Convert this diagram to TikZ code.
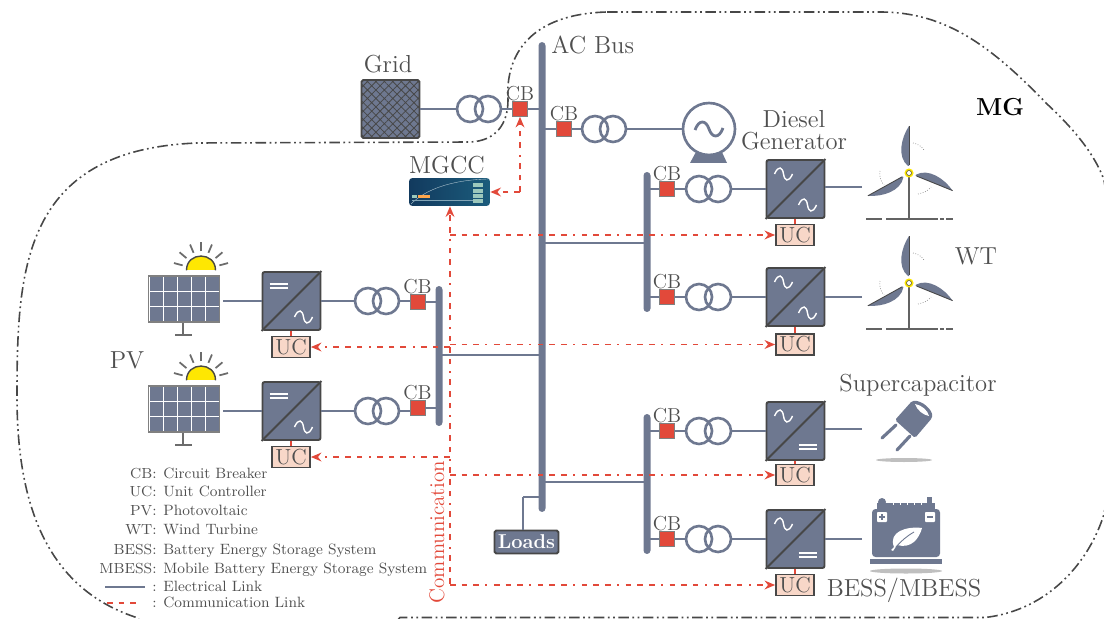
\documentclass[tikz,border=0pt]{standalone}
\usetikzlibrary{arrows.meta,patterns.meta,positioning}

\definecolor{busc}{HTML}{6E7890}
\definecolor{darkc}{HTML}{474747}
\definecolor{textc}{HTML}{4F4F4F}
\definecolor{redc}{HTML}{E2493A}
\definecolor{ucfill}{HTML}{F8D7C8}
\definecolor{ctrlleft}{HTML}{123A5E}
\definecolor{ctrlright}{HTML}{1B5C7C}
\definecolor{ctrlbar}{HTML}{9CC8BC}

\tikzset{
    txtbig/.style={font=\fontsize{14}{12.5}\selectfont, inner sep=0pt, align=center},
    txtcb/.style={font=\fontsize{11.5}{12}\selectfont, inner sep=0pt},
    txtleg/.style={font=\fontsize{8.5}{10}\selectfont, inner sep=0pt},
    txtterm/.style={font=\fontsize{8.3}{10}\selectfont, inner sep=0pt},
    busbar/.style={fill=busc, rounded corners=2pt, minimum width=.14cm, inner sep=0pt},
    elec/.style={draw=busc, line width=1.1pt},
    comm/.style={draw=redc, line width=.95pt, dash pattern=on 3.2pt off 3.4pt on 3.2pt off 3.4pt on 3.2pt off 3.8pt on 1pt off 3.8pt},
    commarrow/.style={comm, -{Stealth[length=6pt,width=5pt,fill=redc]}},
    mgline/.style={draw=darkc, line width=.9pt, dash pattern=on 6pt off 2pt on 1pt off 2pt on 1pt off 2pt},
    cbreaker/.style={draw=gray, fill=redc, minimum size=.3cm, inner sep=0pt, line width=.4pt},
    coil/.style={draw=busc, circle, minimum size=.52cm, inner sep=0pt, line width=1.5pt},
    conv/.style={draw=darkc, fill=busc, rounded corners=1.2pt, minimum size=1.16cm, inner sep=0pt, line width=1.1pt},
    uc/.style={draw=darkc, fill=ucfill, minimum width=.76cm, minimum height=.42cm, inner sep=0pt, line width=1pt, font=\fontsize{12.4}{13}\selectfont},
    acsign/.pic={\draw[white, line width=.8pt] (-9,0) .. controls (-5,-9) and (-1,-7) .. (0,0) .. controls (1,7) and (5,9) .. (9,0);},
    dcsign/.pic={\draw[white, line width=.8pt] (-9,-2) -- (9,-2) (-9,2) -- (9,2);},
    solar/.pic={
        \fill[yellow!90!orange] (-14.5,-5) .. controls (-14.5,-24) and (14.5,-24) .. (14.5,-5) -- cycle;
        \draw[darkc, line width=.8pt] (-14.5,-5) .. controls (-14.5,-24) and (14.5,-24) .. (14.5,-5);
        \foreach \a in {15,40,67,90,113,140,165}
            \draw[darkc!80, line width=1pt] (0,-5) ++(-\a:19) -- ++(-\a:9);
    },
    turbine/.pic={
        \foreach \a in {0,-112,119}{
            \begin{scope}[rotate=\a]
                \fill[busc] (0,-47) .. controls (-8,-35) and (-12,-16) .. (-1,-7) -- (0,-7) -- cycle;
                \draw[darkc, line width=.5pt] (0,-47) -- (0,-8);
            \end{scope}
        }
        \draw[darkc!85, line width=.8pt] (0,0) -- (0,46);
        \draw[darkc!85, line width=.8pt] (-43,46) -- (-27,46) (-23,46) -- (29,46) (31,46) -- (35,46) (37,46) -- (44,46);
        \draw[gray, line width=.4pt, densely dotted] (4,-30) .. controls (9,-29) and (12,-27) .. (15,-23);
        \draw[gray, line width=.4pt, densely dotted] (-29,-2) .. controls (-30,3) and (-28,9) .. (-25,12);
        \draw[gray, line width=.4pt, densely dotted] (9,21) .. controls (14,20) and (19,18) .. (22,14);
        \draw[yellow!90!orange, fill=white, line width=1.1pt] (0,0) circle (.07cm);
        \draw[darkc, line width=.3pt] (0,0) circle (.05cm);
    },
}

\begin{document}
\begin{tikzpicture}[x=.02cm, y=-.02cm, every node/.append style={text=textc}]
    \useasboundingbox (0,0) rectangle (1104,618);

    % microgrid boundary
    \begin{scope}
        \clip (0,0) rectangle (1104,618);
        \draw[mgline] (607,12) -- (880,12) .. controls (945,12) and (990,45) .. (1047,104)
            .. controls (1075,130) and (1095,155) .. (1104,180) -- (1130,350) -- (1104,514)
            .. controls (1090,560) and (1050,610) .. (985,617.5) -- (400,617.5) -- (380,640) -- (150,640) -- (138,618)
            .. controls (50,590) and (17,510) .. (17,397) .. controls (17,270) and (22,150) .. (197,143)
            -- (470,142) .. controls (495,141) and (508,125) .. (508,100)
            .. controls (505,55) and (530,14) .. cycle;
    \end{scope}

    % buses
    \node[busbar, minimum height=9.4cm] (acbus) at (542,277) {};
    \node[busbar, minimum height=2.8cm] (busp) at (439,356) {};
    \node[busbar, minimum height=2.8cm] (busw) at (647,242) {};
    \node[busbar, minimum height=2.8cm] (buss) at (647,484) {};
    \node[txtbig, anchor=west] (aclabel) at (551,45) {AC Bus};

    % grid side
    \node[draw=darkc, line width=1.1pt, rounded corners=1pt, preaction={fill=busc}, pattern={Hatch[angle=45,distance=3.4pt,line width=.45pt]}, pattern color=darkc, minimum size=1.16cm, inner sep=0pt] (grid) at (390.5,109) {};
    \node[txtbig] (gridlabel) at (388,64) {Grid};
    \node[coil] (tga) at (470,109) {};
    \node[coil] (tgb) at (488,109) {};
    \node[cbreaker] (cbg) at (520,109) {};
    \node[txtcb, above=-.3pt of cbg] (cbgl) {CB};
    \draw[elec] (grid) -- (tga);
    \draw[elec] (tgb) -- (cbg);
    \draw[elec] (cbg) -- (cbg -| acbus);

    % diesel generator
    \node[cbreaker] (cbd) at (564,129) {};
    \node[txtcb, above=-.3pt of cbd] (cbdl) {CB};
    \node[coil] (tda) at (595,129) {};
    \node[coil] (tdb) at (613,129) {};
    \fill[busc] (697,150) -- (721,150) -- (727,163) -- (690,163) -- cycle;
    \node[draw=busc, fill=white, circle, line width=1.5pt, minimum size=1.04cm, inner sep=0pt] (gen) at (709,129) {};
    \draw[busc, line width=1.6pt] (695,130) .. controls (699,119) and (706,120) .. (709,129) .. controls (712,138) and (719,139) .. (723,128);
    \node[txtbig] (genlabel) at (794,130) {Diesel\\Generator};
    \draw[elec] (cbd) -- (cbd -| acbus);
    \draw[elec] (cbd) -- (tda);
    \draw[elec] (tdb) -- (gen);

    % converter rows on the right
    \foreach \r/\y/\ucy in {a/189/235,b/297/344.5,c/431/475,d/539/585}{
        \node[cbreaker] (cb\r) at (667,\y) {};
        \node[txtcb, above=-.3pt of cb\r] (cbl\r) {CB};
        \node[coil] (t\r a) at (699,\y) {};
        \node[coil] (t\r b) at (718,\y) {};
        \node[conv] (conv\r) at (795.5,\y) {};
        \node[uc] (uc\r) at (795,\ucy) {UC};
        \draw[darkc, line width=1.1pt] (conv\r.south west) -- (conv\r.north east);
        \draw[redc, line width=1pt] (uc\r.north) -- (uc\r.north |- conv\r.south);
        \draw[elec] (cb\r) -- (t\r a);
        \draw[elec] (t\r b) -- (conv\r);
    }
    \foreach \r in {a,b}{
        \draw[elec] (cb\r) -- (cb\r -| busw);
        \path (conv\r) ++(-12,-15) pic {acsign};
        \path (conv\r) ++(12,16) pic {acsign};
    }
    \foreach \r in {c,d}{
        \draw[elec] (cb\r) -- (cb\r -| buss);
        \path (conv\r) ++(-12,-15) pic {acsign};
        \path (conv\r) ++(12,16) pic {dcsign};
    }
    \foreach \r/\y in {a/187,b/297,c/429,d/539}{
        \coordinate (out\r) at (862,\y);
        \draw[elec] (out\r) -- (out\r -| conv\r.east);
    }

    % PV rows on the left
    \foreach \r/\y/\cby/\ucy in {p/301/302/347,q/411/408/457}{
        \node[cbreaker] (cb\r) at (417.5,\cby) {};
        \node[txtcb, above=-.3pt of cb\r] (cbl\r) {CB};
        \node[coil] (t\r a) at (368,\y) {};
        \node[coil] (t\r b) at (386,\y) {};
        \node[conv] (conv\r) at (291.5,\y) {};
        \node[uc] (uc\r) at (291,\ucy) {UC};
        \node[draw=gray, line width=.8pt, minimum width=1.41cm, minimum height=.92cm, inner sep=0pt] (panel\r) at (184,\y-2) {};
        \foreach \cx in {0,...,4}
            \foreach \cy in {0,...,2}
                \fill[busc] (149.5+14*\cx,\y-24.5+15*\cy) rectangle ++(13.2,14.2);
        \draw[darkc!80, line width=.8pt] (183,\y+22) -- (183,\y+34) (175,\y+34) -- (192,\y+34);
        \path (panel\r.north) ++(17,0) pic {solar};
        \draw[darkc, line width=1.1pt] (conv\r.south west) -- (conv\r.north east);
        \draw[redc, line width=1pt] (uc\r.north) -- (uc\r.north |- conv\r.south);
        \path (conv\r) ++(-13,-15) pic {dcsign};
        \path (conv\r) ++(12,16) pic {acsign};
        \draw[elec, shorten >=2pt] (conv\r.west) -- (conv\r.west -| panel\r.east);
        \draw[elec] (conv\r) -- (t\r a);
        \draw[elec] (t\r b.east) -- (t\r b.east -| cb\r.west);
        \draw[elec] (cb\r) -- (cb\r -| busp);
    }

    % buses tied to the AC bus
    \coordinate (tiep) at (busp |- 0,355);
    \coordinate (tiew) at (busw |- 0,243);
    \coordinate (ties) at (buss |- 0,482);
    \draw[elec] (tiep) -- (tiep -| acbus);
    \draw[elec] (tiew) -- (tiew -| acbus);
    \draw[elec] (ties) -- (ties -| acbus);

    % loads
    \node[draw=darkc, fill=busc, text=white, line width=1.1pt, rounded corners=1pt, minimum width=1.28cm, minimum height=.46cm, inner sep=0pt, font=\fontsize{11.4}{12}\selectfont\bfseries] (loads) at (526.5,542) {Loads};
    \coordinate (loadtop) at (523,497);
    \draw[elec, line width=1.3pt] (loadtop) -- (loadtop -| acbus);
    \draw[elec, line width=1.3pt] (loadtop) -- (loadtop |- loads.north);

    % wind turbines
    \path (909,173) pic {turbine};
    \path (909,283) pic {turbine};
    \node[txtbig] (wtlabel) at (976,256) {WT};

    % supercapacitor
    \node[txtbig] (sclabel) at (918,385) {Supercapacitor};
    \draw[busc, line width=1.8pt, line cap=round] (896,425) -- (882,438) (910,436) -- (897,450);
    \fill[busc, rounded corners=1pt] (912,401) .. controls (922,400) and (933,410) .. (932,418) -- (915,438) -- (895,420) -- cycle;
    \fill[white] (915,404) .. controls (922,405) and (928,411) .. (929,416) .. controls (923,415) and (917,410) .. (915,404);
    \fill[gray!50] (904,460) ellipse (.56cm and .04cm);

    % battery
    \fill[busc] (877,503) rectangle (935,510);
    \fill[busc] (882,502) circle (.08cm);
    \fill[busc] (927,497) rectangle (932,505);
    \foreach \n in {0,...,4}
        \fill[white] (893+7*\n,502.5) rectangle ++(1,2);
    \node[fill=busc, rounded corners=2pt, minimum width=1.36cm, minimum height=.96cm, inner sep=0pt] (batt) at (906,533) {};
    \fill[busc] (870,559) rectangle (942,564);
    \fill[gray!50] (906,571) ellipse (.72cm and .05cm);
    \fill[white, rounded corners=.5pt] (877,512) rectangle ++(10,10);
    \fill[white, rounded corners=.5pt] (925,512) rectangle ++(10,10);
    \draw[busc, line width=.7pt] (879,517) -- (885,517) (882,514) -- (882,520) (927,517) -- (933,517);
    \fill[white] (894,547) .. controls (888,532) and (906,526) .. (922,528) .. controls (919,539) and (911,549) .. (897,545) -- (893,551) -- (891,550) -- cycle;
    \draw[busc, line width=.5pt] (896,547) .. controls (901,541) and (907,536) .. (914,532);
    \node[txtbig] (bslabel) at (904,590) {BESS/MBESS};

    % controller
    \node[rounded corners=2pt, left color=ctrlleft, right color=ctrlright, minimum width=1.62cm, minimum height=.56cm, inner sep=0pt] (mgcc) at (449.5,192) {};
    \draw[white!70!ctrlright, line width=.2pt] (411,204) .. controls (425,190) and (450,180) .. (488,179);
    \draw[white!45!ctrlright, line width=.3pt] (412,200) -- (473,200);
    \fill[ctrlbar] (412,195) rectangle (417,198);
    \fill[orange!70] (418,195) rectangle (430,198);
    \foreach \by in {185,191,196,201}
        \fill[ctrlbar] (473,\by-1.8) rectangle (483,\by+1.8);
    \node[txtbig] (mgcclabel) at (447,165) {MGCC};

    % communication
    \coordinate (commbot) at (450,584);
    \coordinate (commcb) at (520,192);
    \draw[commarrow] (commcb) -- (cbg.south);
    \draw[commarrow] (commcb) -- (mgcc.east);
    \draw[commarrow] (commbot) -- (commbot |- mgcc.south);
    \foreach \r in {a,b,c,d}
        \draw[commarrow] (commbot |- uc\r.west) -- (uc\r.west);
    \foreach \r in {p,q}
        \draw[commarrow] (commbot |- uc\r.east) -- (uc\r.east);
    \node[rotate=90, text=redc, font=\fontsize{12}{13}\selectfont, inner sep=0pt] (commlabel) at (437,532) {Communication};

    % labels
    \node[txtbig] (pvlabel) at (127,360) {PV};
    \node[txtbig, font=\fontsize{14}{15}\selectfont\bfseries, text=black] (mglabel) at (1000,107) {MG};

    % legend
    \foreach \k/\term/\desc/\y in {a/CB/Circuit Breaker/478,b/UC/Unit Controller/496,c/PV/Photovoltaic/515,d/WT/Wind Turbine/534,e/BESS/Battery Energy Storage System/554,f/MBESS/Mobile Battery Energy Storage System/573}{
        \node[txtterm, anchor=base east] (term\k) at (157,\y) {\term:};
        \node[txtleg, anchor=base west] (desc\k) at (163,\y) {\desc};
    }
    \foreach \k/\desc/\y in {g/Electrical Link/591,h/Communication Link/607}{
        \node[txtterm, anchor=base east] (term\k) at (157,\y) {:};
        \node[txtleg, anchor=base west] (desc\k) at (163,\y) {\desc};
    }
    \coordinate (lga) at (105,587);
    \coordinate (lgb) at (145,587);
    \coordinate (lgc) at (107,603);
    \coordinate (lgd) at (142,603);
    \draw[elec] (lga) -- (lgb);
    \draw[comm] (lgc) -- (lgd);
\end{tikzpicture}
\end{document}
